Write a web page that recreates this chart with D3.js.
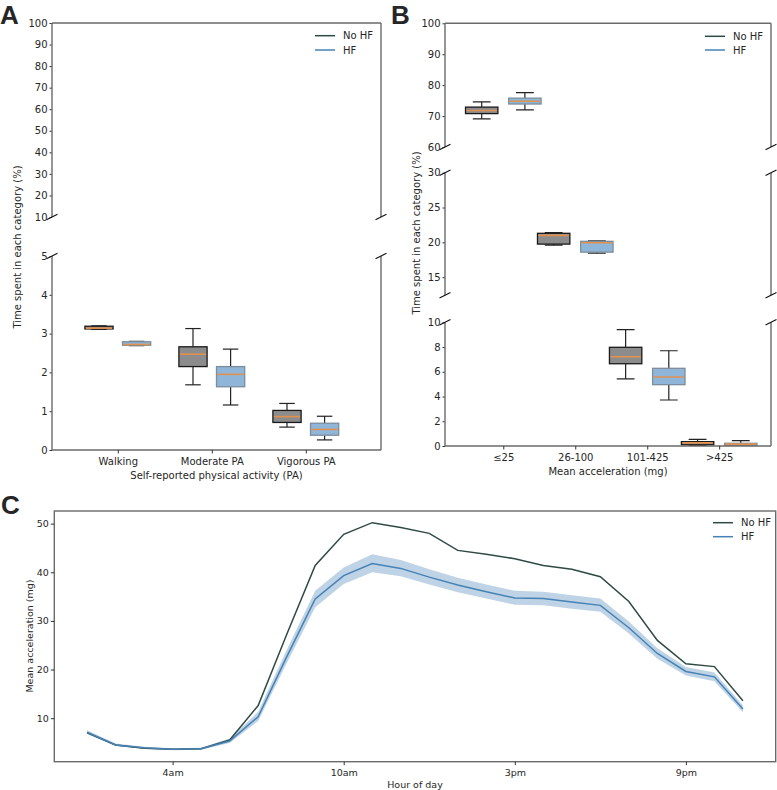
<!DOCTYPE html>
<html>
<head>
<meta charset="utf-8">
<script src="https://cdn.jsdelivr.net/npm/d3@7"></script>
<style>
  body { margin: 0; background: #fff; }
  text { font-family: "DejaVu Sans", sans-serif; fill: #262626; }
</style>
</head>
<body>
<script>
// ---- data ----
// boxes are [whisker low, q1, median, q3, whisker high]
const paCategories = ["Walking", "Moderate PA", "Vigorous PA"];
const paNoHF = [[3.11, 3.12, 3.14, 3.19, 3.20], [1.68, 2.15, 2.47, 2.66, 3.13], [0.59, 0.71, 0.86, 1.02, 1.20]];
const paHF = [[2.69, 2.70, 2.72, 2.79, 2.80], [1.16, 1.63, 1.95, 2.15, 2.60], [0.26, 0.38, 0.53, 0.69, 0.87]];
const paTicksTop = [10, 20, 30, 40, 50, 60, 70, 80, 90, 100];
const paTicksBottom = [0, 1, 2, 3, 4, 5];

const accCategories = ["≤25", "26-100", "101-425", ">425"];
const accNoHF = [[69.1, 70.8, 71.8, 72.9, 74.6], [19.6, 19.75, 21.0, 21.3, 21.4], [5.42, 6.65, 7.22, 7.98, 9.40], [0.04, 0.1, 0.25, 0.35, 0.54]];
const accHF = [[72.0, 73.9, 74.8, 75.8, 77.6], [18.45, 18.6, 19.95, 20.15, 20.2], [3.72, 4.96, 5.58, 6.28, 7.70], [0.02, 0.05, 0.15, 0.22, 0.43]];
const accTicksTop = [60, 70, 80, 90, 100];
const accTicksMid = [15, 20, 25, 30];
const accTicksBottom = [0, 2, 4, 6, 8, 10];

const hourTicks = [3, 9, 15, 21];
const hourLabels = ["4am", "10am", "3pm", "9pm"];
const noHFMean = [7.0, 4.5, 3.8, 3.6, 3.7, 5.5, 12.6, 27.2, 41.4, 47.8, 50.2, 49.2, 48.0, 44.5, 43.7, 42.8, 41.4, 40.6, 39.1, 34.0, 26.0, 21.2, 20.6, 13.6];
const hfMean = [7.1, 4.5, 3.9, 3.6, 3.7, 5.3, 10.3, 22.6, 34.5, 39.3, 41.8, 40.8, 39.0, 37.4, 36.0, 34.7, 34.6, 33.9, 33.2, 28.6, 23.3, 19.6, 18.5, 11.9];
const hfLow = [6.8, 4.3, 3.7, 3.4, 3.5, 4.9, 9.4, 21.3, 32.8, 37.6, 40.0, 39.2, 37.5, 35.9, 34.6, 33.3, 33.2, 32.5, 31.9, 27.4, 22.2, 18.8, 17.6, 11.2];
const hfHigh = [7.5, 4.8, 4.1, 3.8, 3.9, 5.8, 11.3, 24.0, 36.2, 41.0, 43.7, 42.5, 40.6, 38.9, 37.5, 36.2, 36.0, 35.3, 34.6, 29.9, 24.4, 20.5, 19.4, 12.6];

// ---- style ----
const spineColor = "#6a6a6a";
const noHFLine = "#2e4a45";
const hfLine = "#4682b4";
const noHFFill = "#8c8c8c";
const hfFill = "#8fb6d9";
const medianColor = "#e0914f";

const svg = d3.select("body").append("svg")
  .attr("width", 777).attr("height", 790);

function styleAxis(ax, size) {
  ax.select(".domain").remove();
  ax.selectAll(".tick line").attr("stroke", "#333").attr("stroke-width", 1);
  ax.selectAll(".tick text").style("font-size", size + "px").attr("fill", "#262626")
    .style("font-family", "DejaVu Sans, sans-serif");
}

function legend(x, y, gap) {
  const items = [["No HF", noHFLine], ["HF", hfLine]];
  items.forEach((it, i) => {
    const yy = y + i * gap;
    svg.append("line").attr("x1", x).attr("x2", x + 20).attr("y1", yy).attr("y2", yy)
      .attr("stroke", it[1]).attr("stroke-width", 1.5);
    svg.append("text").attr("x", x + 28).attr("y", yy + 3.6)
      .style("font-size", "10px").text(it[0]);
  });
}

function boxPanel(opt) {
  const g = svg.append("g");
  const x = d3.scaleLinear().domain(opt.xDomain).range(opt.xRange);
  const [x0, x1] = opt.xRange;
  const nSeg = opt.segments.length;

  opt.segments.forEach((seg, si) => {
    const y = d3.scaleLinear().domain(seg.domain).range(seg.range);
    const clipId = opt.id + "-clip-" + si;
    g.append("clipPath").attr("id", clipId).append("rect")
      .attr("x", x0).attr("y", seg.range[1])
      .attr("width", x1 - x0).attr("height", seg.range[0] - seg.range[1]);
    const plot = g.append("g").attr("clip-path", `url(#${clipId})`);

    opt.groups.forEach(grp => {
      grp.data.forEach((d, i) => {
        const cx = x(i + 1 + grp.offset);
        const w = x(opt.boxWidth) - x(0);
        const cap = w * 0.55;
        const [lo, q1, med, q3, hi] = d;
        // whiskers
        plot.append("line").attr("x1", cx).attr("x2", cx).attr("y1", y(lo)).attr("y2", y(q1))
          .attr("stroke", "#222").attr("stroke-width", 1.2);
        plot.append("line").attr("x1", cx).attr("x2", cx).attr("y1", y(q3)).attr("y2", y(hi))
          .attr("stroke", "#222").attr("stroke-width", 1.2);
        plot.append("line").attr("x1", cx - cap / 2).attr("x2", cx + cap / 2).attr("y1", y(lo)).attr("y2", y(lo))
          .attr("stroke", "#222").attr("stroke-width", 1.2);
        plot.append("line").attr("x1", cx - cap / 2).attr("x2", cx + cap / 2).attr("y1", y(hi)).attr("y2", y(hi))
          .attr("stroke", "#222").attr("stroke-width", 1.2);
        // box
        plot.append("rect").attr("x", cx - w / 2).attr("width", w)
          .attr("y", y(q3)).attr("height", Math.max(y(q1) - y(q3), 1))
          .attr("fill", grp.fill).attr("stroke", grp.edge).attr("stroke-width", 1.3);
        // median
        plot.append("line").attr("x1", cx - w / 2 + 1).attr("x2", cx + w / 2 - 1)
          .attr("y1", y(med)).attr("y2", y(med))
          .attr("stroke", medianColor).attr("stroke-width", 1.6);
      });
    });

    const ax = g.append("g").attr("transform", `translate(${x0},0)`)
      .call(d3.axisLeft(y).tickValues(seg.ticks).tickFormat(d3.format("d")).tickSize(2.5).tickPadding(2));
    styleAxis(ax, 10);

    // spines
    [x0, x1].forEach(sx => {
      g.append("line").attr("x1", sx).attr("x2", sx).attr("y1", seg.range[1]).attr("y2", seg.range[0])
        .attr("stroke", spineColor).attr("stroke-width", 1.4);
    });
    if (si === 0) {
      g.append("line").attr("x1", x0).attr("x2", x1).attr("y1", seg.range[1]).attr("y2", seg.range[1])
        .attr("stroke", spineColor).attr("stroke-width", 1.4);
    }
    if (si === nSeg - 1) {
      g.append("line").attr("x1", x0).attr("x2", x1).attr("y1", seg.range[0]).attr("y2", seg.range[0])
        .attr("stroke", spineColor).attr("stroke-width", 1.4);
      const xa = g.append("g").attr("transform", `translate(0,${seg.range[0]})`)
        .call(d3.axisBottom(x).tickValues(opt.categories.map((c, i) => i + 1))
          .tickFormat((d, i) => opt.categories[i]).tickSize(3.5).tickPadding(4));
      styleAxis(xa, 10);
    }
    // break marks
    const breaks = [];
    if (si > 0) breaks.push(seg.range[1]);
    if (si < nSeg - 1) breaks.push(seg.range[0]);
    breaks.forEach(by => {
      [x0, x1].forEach(bx => {
        g.append("line").attr("x1", bx - 5.5).attr("x2", bx + 5.5)
          .attr("y1", by + 2.7).attr("y2", by - 2.7)
          .attr("stroke", "#111").attr("stroke-width", 1.1);
      });
    });
  });

  g.append("text").attr("x", (x0 + x1) / 2).attr("y", opt.xLabelY)
    .attr("text-anchor", "middle").style("font-size", "10px").text(opt.xLabel);
  g.append("text").attr("transform", `translate(${opt.yLabelPos[0]},${opt.yLabelPos[1]}) rotate(-90)`)
    .attr("text-anchor", "middle").style("font-size", "10px").text("Time spent in each category (%)");
}

// ---- panel A ----
boxPanel({
  id: "a",
  categories: paCategories,
  xDomain: [0.3, 3.8], xRange: [52, 381],
  boxWidth: 0.3,
  groups: [
    { data: paNoHF, offset: -0.2, fill: noHFFill, edge: "#1a1a1a" },
    { data: paHF, offset: 0.2, fill: hfFill, edge: "#7d8d9c" }
  ],
  segments: [
    { domain: [10, 100], range: [217, 23], ticks: paTicksTop },
    { domain: [0, 5], range: [450, 256], ticks: paTicksBottom }
  ],
  xLabel: "Self-reported physical activity (PA)", xLabelY: 478.5,
  yLabelPos: [20.5, 247]
});
legend(315, 35.7, 14.3);

// ---- panel B ----
boxPanel({
  id: "b",
  categories: accCategories,
  xDomain: [0.19, 4.72], xRange: [445, 771],
  boxWidth: 0.45,
  groups: [
    { data: accNoHF, offset: -0.3, fill: noHFFill, edge: "#1a1a1a" },
    { data: accHF, offset: 0.3, fill: hfFill, edge: "#7d8d9c" }
  ],
  segments: [
    { domain: [60, 100], range: [147, 23.3], ticks: accTicksTop },
    { domain: [12.4, 30], range: [295.3, 172.7], ticks: accTicksMid },
    { domain: [0, 10], range: [446, 322.3], ticks: accTicksBottom }
  ],
  xLabel: "Mean acceleration (mg)", xLabelY: 474.5,
  yLabelPos: [420.2, 233]
});
legend(705, 36.3, 13.7);

// ---- panel C ----
const xC = d3.scaleLinear().domain([-1.15, 24.15]).range([54.3, 775.7]);
const yC = d3.scaleLinear().domain([1.05, 52.6]).range([761.7, 511]);

const band = d3.area()
  .x((d, i) => xC(i))
  .y0((d, i) => yC(hfLow[i]))
  .y1((d, i) => yC(hfHigh[i]));
svg.append("path").datum(hfMean).attr("d", band)
  .attr("fill", hfLine).attr("fill-opacity", 0.35);

const lineC = d3.line().x((d, i) => xC(i)).y(d => yC(d));
svg.append("path").datum(noHFMean).attr("d", lineC)
  .attr("fill", "none").attr("stroke", noHFLine).attr("stroke-width", 1.5);
svg.append("path").datum(hfMean).attr("d", lineC)
  .attr("fill", "none").attr("stroke", hfLine).attr("stroke-width", 1.5);

svg.append("rect").attr("x", 54.3).attr("y", 511).attr("width", 775.7 - 54.3).attr("height", 761.7 - 511)
  .attr("fill", "none").attr("stroke", spineColor).attr("stroke-width", 1.4);

const yAxC = svg.append("g").attr("transform", "translate(54.3,0)")
  .call(d3.axisLeft(yC).tickValues([10, 20, 30, 40, 50]).tickFormat(d3.format("d")).tickSize(3.5).tickPadding(2));
styleAxis(yAxC, 9.5);
const xAxC = svg.append("g").attr("transform", "translate(0,761.7)")
  .call(d3.axisBottom(xC).tickValues(hourTicks).tickFormat((d, i) => hourLabels[i]).tickSize(3.5).tickPadding(4));
styleAxis(xAxC, 9.5);

svg.append("text").attr("x", 415).attr("y", 788).attr("text-anchor", "middle")
  .style("font-size", "9.5px").text("Hour of day");
svg.append("text").attr("transform", "translate(32.5,636) rotate(-90)").attr("text-anchor", "middle")
  .style("font-size", "9.5px").text("Mean acceleration (mg)");
legend(713, 522.7, 14);

// ---- panel letters ----
[["A", 0, 24], ["B", 391, 24], ["C", 1, 514]].forEach(p => {
  svg.append("text").attr("x", p[1]).attr("y", p[2])
    .style("font-family", "Liberation Sans, Arial, sans-serif")
    .style("font-weight", "bold").style("font-size", "26px").attr("fill", "#000").text(p[0]);
});
</script>
</body>
</html>
